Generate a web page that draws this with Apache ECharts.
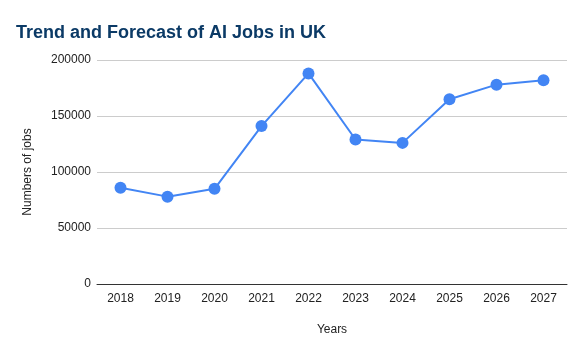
<!DOCTYPE html>
<html>
<head>
<meta charset="utf-8">
<script src="https://cdn.jsdelivr.net/npm/echarts@6/dist/echarts.min.js"></script>
<style>
  html, body { margin: 0; padding: 0; background: #fff; }
  #chart { width: 584px; height: 354px; }
</style>
</head>
<body>
<div id="chart"></div>
<script>
// 数据
var years = ['2018', '2019', '2020', '2021', '2022', '2023', '2024', '2025', '2026', '2027'];
var jobs = [86000, 78000, 85000, 141000, 188000, 129000, 126000, 165000, 178000, 182000];

var myChart = echarts.init(document.getElementById('chart'));

var option = {
  backgroundColor: '#fff',
  textStyle: { fontFamily: 'Liberation Sans, Arial, sans-serif' },
  title: {
    text: 'Trend and Forecast of AI Jobs in UK',
    left: 11,
    top: 19,
    textStyle: { fontSize: 18, fontWeight: 'bold', color: '#0b3a66' }
  },
  grid: { left: 97, right: 17, top: 60, bottom: 70 },
  xAxis: {
    type: 'category',
    data: years,
    name: 'Years',
    nameLocation: 'middle',
    nameGap: 40,
    nameTextStyle: { fontSize: 12, color: '#222' },
    axisLine: { lineStyle: { color: '#333', width: 1 } },
    axisTick: { show: false },
    axisLabel: { fontSize: 12, color: '#222', margin: 9 }
  },
  yAxis: {
    type: 'value',
    min: 0,
    max: 200000,
    interval: 50000,
    name: 'Numbers of jobs',
    nameLocation: 'middle',
    nameGap: 63,
    nameTextStyle: { fontSize: 12, color: '#222' },
    axisLine: { show: false },
    axisTick: { show: false },
    axisLabel: {
      fontSize: 12,
      color: '#222',
      margin: 6,
      formatter: function (v) { return String(v); }
    },
    splitLine: { lineStyle: { color: '#ccc', width: 1 } }
  },
  series: [{
    type: 'line',
    data: jobs,
    symbol: 'circle',
    symbolSize: 12,
    itemStyle: { color: '#4285f4' },
    lineStyle: { color: '#4285f4', width: 2 },
    animation: false
  }]
};

myChart.setOption(option);
</script>
</body>
</html>
